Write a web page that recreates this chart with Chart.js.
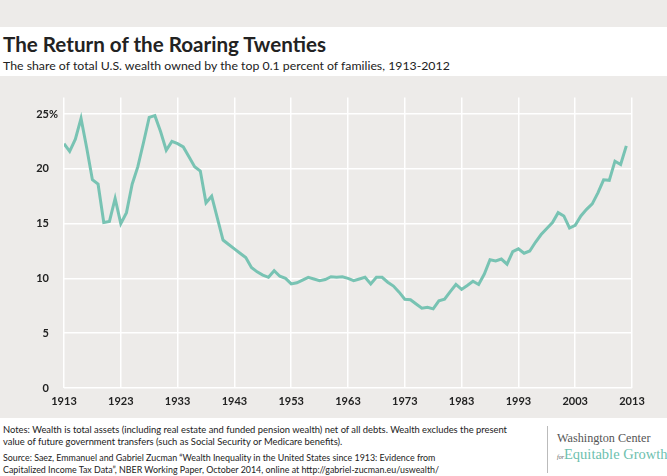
<!DOCTYPE html>
<html>
<head>
<meta charset="utf-8">
<script src="https://cdn.jsdelivr.net/npm/chart.js@4.4.0/dist/chart.umd.min.js"></script>
<style>
  html, body { margin: 0; padding: 0; }
  body { width: 667px; height: 476px; background: #edebe9; position: relative; overflow: hidden; font-family: Lato, "Open Sans", sans-serif; }
  #head { position: absolute; left: 0; top: 27px; width: 667px; height: 49px; background: #fff; }
  #title { position: absolute; left: 3px; top: 5px; font-size: 20.6px; font-weight: bold; color: #222; white-space: nowrap; }
  #subtitle { position: absolute; left: 3px; top: 31px; font-size: 12.3px; color: #222; white-space: nowrap; }
  #chartBox { position: absolute; left: 0; top: 76px; width: 667px; height: 342px; }
  #foot { position: absolute; left: 0; top: 418px; width: 667px; height: 58px; background: #fff; }
  .note { position: absolute; left: 3px; color: #222; line-height: 12px; white-space: nowrap; }
  #divider { position: absolute; left: 547px; top: 8px; width: 1px; height: 47px; background: #bbb; }
  #logo1 { position: absolute; left: 557px; top: 13px; font-family: "Liberation Serif", "DejaVu Serif", serif; font-size: 12.2px; color: #555; white-space: nowrap; }
  #logo2 { position: absolute; left: 557px; top: 28px; font-family: "Liberation Serif", "DejaVu Serif", serif; font-size: 14.5px; color: #6dbfae; white-space: nowrap; }
  #logo2 i { font-size: 6px; color: #555; }
</style>
</head>
<body>
<div id="head">
  <div id="title">The Return of the Roaring Twenties</div>
  <div id="subtitle">The share of total U.S. wealth owned by the top 0.1 percent of families, 1913-2012</div>
</div>
<div id="chartBox"><canvas id="wealthChart"></canvas></div>
<div id="foot">
  <div class="note" style="top:6px; font-size:9.4px">Notes: Wealth is total assets (including real estate and funded pension wealth) net of all debts. Wealth excludes the present<br>value of future government transfers (such as Social Security or Medicare benefits).</div>
  <div class="note" style="top:34px; font-size:8.9px">Source: Saez, Emmanuel and Gabriel Zucman “Wealth Inequality in the United States since 1913: Evidence from<br>Capitalized Income Tax Data”, NBER Working Paper, October 2014, online at http://gabriel-zucman.eu/uswealth/</div>
  <div id="divider"></div>
  <div id="logo1">Washington Center</div>
  <div id="logo2"><i>for</i>Equitable Growth</div>
</div>
<script>
// 연도 (1913-2012)
const years = [];
for (let y = 1913; y <= 2012; y++) years.push(y);

// 상위 0.1% 가구의 부 점유율 (%)
const topShare = [
  22.3, 21.6, 22.7, 24.6, 21.9, 19.0, 18.6, 15.1, 15.2, 17.3,
  15.0, 16.0, 18.6, 20.2, 22.4, 24.7, 24.85, 23.4, 21.7, 22.5,
  22.3, 22.0, 21.1, 20.2, 19.8, 16.9, 17.5, 15.5, 13.5, 13.1,
  12.7, 12.3, 11.9, 11.0, 10.6, 10.3, 10.1, 10.7, 10.2, 10.0,
  9.5, 9.6, 9.85, 10.1, 9.95, 9.8, 9.9, 10.15, 10.1, 10.15,
  10.0, 9.8, 9.95, 10.1, 9.5, 10.1, 10.1, 9.65, 9.3, 8.75,
  8.1, 8.05, 7.66, 7.28, 7.37, 7.22, 7.95, 8.1, 8.8, 9.45,
  9.0, 9.36, 9.74, 9.45, 10.4, 11.7, 11.6, 11.77, 11.3, 12.45,
  12.7, 12.3, 12.5, 13.3, 14.0, 14.55, 15.1, 16.0, 15.7, 14.6,
  14.85, 15.7, 16.3, 16.8, 17.8, 19.0, 18.95, 20.7, 20.4, 22.1
];

// 축 눈금
const xTicks = [1913, 1923, 1933, 1943, 1953, 1963, 1973, 1983, 1993, 2003, 2013];
const yTicks = [0, 5, 10, 15, 20, 25];

const points = years.map(function(year, i) {
  return { x: year, y: topShare[i] };
});

// 25 옆에 % 표시
const percentSign = {
  id: 'percentSign',
  afterDraw: function(chart) {
    const ctx = chart.ctx;
    const yScale = chart.scales.y;
    ctx.save();
    ctx.font = 'bold 11px Lato';
    ctx.fillStyle = '#222';
    ctx.textAlign = 'left';
    ctx.textBaseline = 'middle';
    ctx.fillText('%', yScale.right - 15, yScale.getPixelForValue(25));
    ctx.restore();
  }
};

const tickFont = { family: 'Lato', size: 11, weight: 'bold' };

new Chart(document.getElementById('wealthChart').getContext('2d'), {
  type: 'line',
  data: {
    datasets: [{
      data: points,
      borderColor: '#78c3b3',
      borderWidth: 3,
      pointRadius: 0,
      tension: 0
    }]
  },
  options: {
    responsive: true,
    maintainAspectRatio: false,
    animation: false,
    layout: { padding: { left: 0, right: 35, top: 11, bottom: 0 } },
    plugins: { legend: { display: false }, tooltip: { enabled: false } },
    scales: {
      x: {
        type: 'linear',
        min: 1913,
        max: 2013,
        afterBuildTicks: function(scale) {
          scale.ticks = xTicks.map(function(v) { return { value: v }; });
        },
        afterFit: function(scale) { scale.height = 30; },
        grid: { color: '#ffffff', lineWidth: 1.5, drawTicks: false },
        border: { display: false },
        ticks: { font: tickFont, color: '#222', padding: 7, maxRotation: 0,
          callback: function(v) { return String(v); } }
      },
      y: {
        min: 0,
        max: 26.5,
        afterBuildTicks: function(scale) {
          scale.ticks = yTicks.map(function(v) { return { value: v }; });
        },
        afterFit: function(scale) { scale.width = 64; },
        grid: { color: '#ffffff', lineWidth: 1.5, drawTicks: false },
        border: { display: false },
        ticks: { font: tickFont, color: '#222', padding: 15 }
      }
    }
  },
  plugins: [percentSign]
});
</script>
</body>
</html>
